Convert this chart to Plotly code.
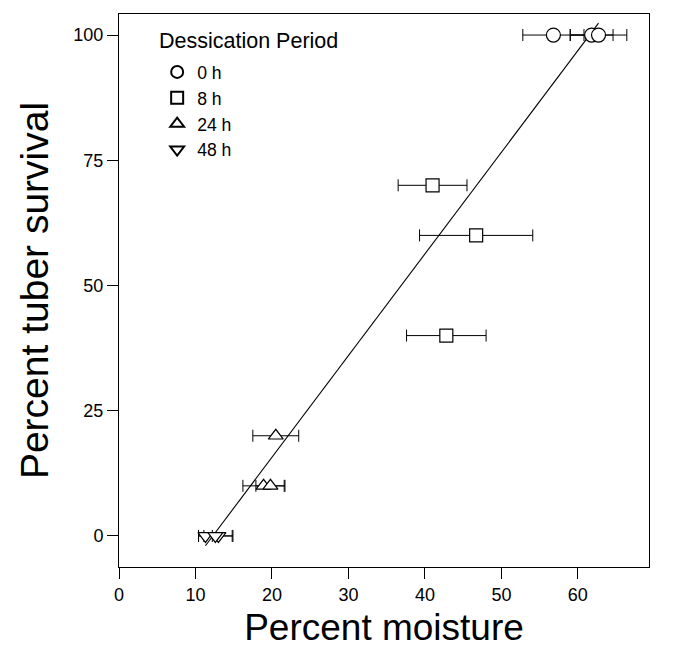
import numpy as np
import plotly.graph_objects as go

# ---- data ----
moist_0h = [56.8, 61.8, 62.7]
surv_0h = [100, 100, 100]
err_0h = [4.0, 2.8, 3.7]

moist_8h = [41.0, 46.7, 42.8]
surv_8h = [70, 60, 40]
err_8h = [4.5, 7.4, 5.2]

moist_24h = [20.5, 18.9, 19.8]
surv_24h = [20, 10, 10]
err_24h = [3.0, 2.7, 1.9]

moist_48h = [11.3, 13.0, 12.6]
surv_48h = [0, 0, 0]
err_48h = [0.9, 1.9, 2.2]

series_names = ["0 h", "8 h", "24 h", "48 h"]
series_symbols = ["circle", "square", "triangle-up", "triangle-down"]
legend_title = "Dessication Period"

reg_slope = 2.03
reg_intercept = -24.9

x_ticks = [0, 10, 20, 30, 40, 50, 60]
y_ticks = [0, 25, 50, 75, 100]

FONT = "Liberation Sans, Arial, sans-serif"

fig = go.Figure()

all_x = moist_0h + moist_8h + moist_24h + moist_48h
line_x = np.array([min(all_x), max(all_x)])
fig.add_trace(go.Scatter(x=line_x, y=reg_slope * line_x + reg_intercept,
                         mode="lines", line=dict(color="black", width=1.1),
                         showlegend=False, hoverinfo="skip"))

series = [(moist_0h, surv_0h, err_0h), (moist_8h, surv_8h, err_8h),
          (moist_24h, surv_24h, err_24h), (moist_48h, surv_48h, err_48h)]
sizes = [14, 13, 13, 13]
for (mx, sy, ex), name, sym, sz in zip(series, series_names, series_symbols, sizes):
    fig.add_trace(go.Scatter(
        x=mx, y=sy, mode="markers", name=name,
        marker=dict(symbol=sym, size=sz, color="white",
                    line=dict(color="black", width=1.2)),
        error_x=dict(type="data", array=ex, visible=True, color="black",
                     thickness=1, width=6),
    ))

fig.add_annotation(text=legend_title, xref="paper", yref="paper",
                   x=0.0717, y=0.9511, xanchor="left", yanchor="middle",
                   showarrow=False, font=dict(size=21.5))

fig.update_layout(
    width=679, height=658,
    margin=dict(l=111, r=38, t=6, b=99),
    paper_bgcolor="white", plot_bgcolor="white",
    font=dict(family=FONT, color="black", size=18),
    showlegend=True,
    legend=dict(
        font=dict(size=17.6),
        x=0.072, y=0.9277, xanchor="left", yanchor="top",
        bgcolor="rgba(0,0,0,0)", itemsizing="constant",
        tracegroupgap=0,
    ),
    xaxis=dict(
        range=[0, 69.3], tickvals=x_ticks, ticks="outside", ticklen=11,
        tickwidth=1, tickcolor="black", showline=True, linecolor="black",
        linewidth=1, mirror=True, showgrid=False, zeroline=False,
        tickfont=dict(size=18),
        title=dict(text="Percent moisture", font=dict(size=37), standoff=10),
    ),
    yaxis=dict(
        range=[-6.2, 104.2], tickvals=y_ticks, ticks="outside", ticklen=11,
        tickwidth=1, tickcolor="black", showline=True, linecolor="black",
        linewidth=1, mirror=True, showgrid=False, zeroline=False,
        tickfont=dict(size=18),
        title=dict(text="Percent tuber survival", font=dict(size=39), standoff=12),
    ),
)

fig.write_html("out.html")
